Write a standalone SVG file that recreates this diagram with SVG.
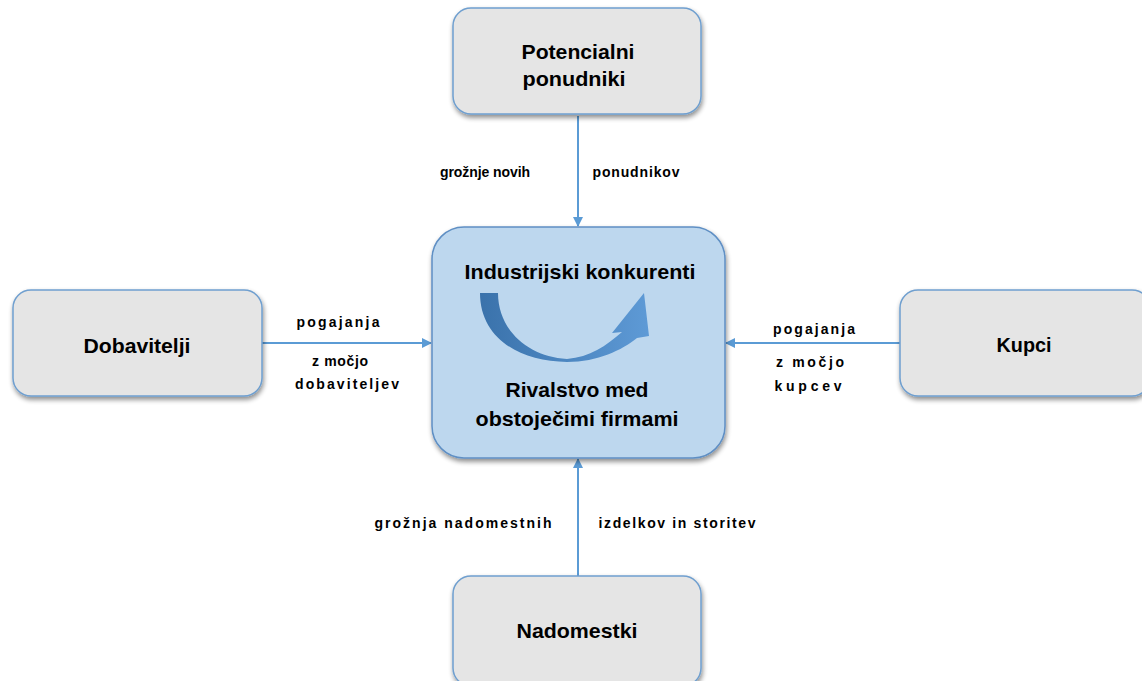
<svg xmlns="http://www.w3.org/2000/svg" width="1142" height="681" viewBox="0 0 1142 681">
  <defs>
    <style>
      .node { fill: #e5e5e5; stroke: #6f9fcf; stroke-width: 1.5; filter: url(#shadow); }
      .core { fill: #bdd7ee; stroke: #5f8fc4; stroke-width: 1.5; filter: url(#shadow); }
      .title { font-family: "Liberation Sans", Arial, sans-serif; font-weight: bold; font-size: 21px; fill: #000; text-anchor: middle; }
      .lbl { font-family: "Liberation Sans", Arial, sans-serif; font-weight: bold; font-size: 14px; fill: #000; text-anchor: middle; }
      .wire { stroke: #5b9bd5; stroke-width: 2; fill: none; marker-end: url(#tip); }
    </style>
    <filter id="shadow" x="-10%" y="-10%" width="125%" height="130%">
      <feGaussianBlur in="SourceAlpha" stdDeviation="2.5"/>
      <feOffset dx="1" dy="3" result="b"/>
      <feComponentTransfer><feFuncA type="linear" slope="0.45"/></feComponentTransfer>
      <feMerge><feMergeNode/><feMergeNode in="SourceGraphic"/></feMerge>
    </filter>
    <marker id="tip" viewBox="0 0 10 10" refX="9" refY="5" markerWidth="5" markerHeight="5" orient="auto">
      <path d="M0,0 L10,5 L0,10 Z" fill="#5b9bd5"/>
    </marker>
    <linearGradient id="swoosh" x1="0" y1="0" x2="1" y2="0">
      <stop offset="0" stop-color="#3a72ab"/>
      <stop offset="1" stop-color="#5e9ad6"/>
    </linearGradient>
  </defs>

  <g id="connectors">
    <line class="wire" x1="578" y1="116" x2="578" y2="226"/>
    <line class="wire" x1="262" y1="343" x2="431" y2="343"/>
    <line class="wire" x1="900" y1="343" x2="726" y2="343"/>
    <line class="wire" x1="578" y1="576" x2="578" y2="459"/>
    <text class="lbl" x="485" y="177" textLength="90" lengthAdjust="spacing">grožnje novih</text>
    <text class="lbl" x="636" y="177" textLength="87" lengthAdjust="spacing">ponudnikov</text>
    <text class="lbl" x="338" y="327" textLength="83" lengthAdjust="spacing">pogajanja</text>
    <text class="lbl" x="340" y="366" textLength="56" lengthAdjust="spacing">z močjo</text>
    <text class="lbl" x="347" y="389" textLength="104" lengthAdjust="spacing">dobaviteljev</text>
    <text class="lbl" x="814" y="334" textLength="82" lengthAdjust="spacing">pogajanja</text>
    <text class="lbl" x="810" y="367" textLength="68" lengthAdjust="spacing">z močjo</text>
    <text class="lbl" x="808" y="391" textLength="67" lengthAdjust="spacing">kupcev</text>
    <text class="lbl" x="463" y="528" textLength="177" lengthAdjust="spacing">grožnja nadomestnih</text>
    <text class="lbl" x="677" y="528" textLength="157" lengthAdjust="spacing">izdelkov in storitev</text>
  </g>

  <g id="potencialni">
    <rect class="node" x="453" y="8" width="248" height="106" rx="18"/>
    <text class="title" x="578" y="59" textLength="113" lengthAdjust="spacingAndGlyphs">Potencialni</text>
    <text class="title" x="574" y="86" textLength="103" lengthAdjust="spacingAndGlyphs">ponudniki</text>
  </g>

  <g id="dobavitelji">
    <rect class="node" x="13" y="290" width="249" height="106" rx="18"/>
    <text class="title" x="137" y="353" textLength="107" lengthAdjust="spacingAndGlyphs">Dobavitelji</text>
  </g>

  <g id="kupci">
    <rect class="node" x="900" y="290" width="250" height="106" rx="18"/>
    <text class="title" x="1024" y="352" textLength="55" lengthAdjust="spacingAndGlyphs">Kupci</text>
  </g>

  <g id="nadomestki">
    <rect class="node" x="453" y="576" width="248" height="110" rx="18"/>
    <text class="title" x="577" y="638" textLength="121" lengthAdjust="spacingAndGlyphs">Nadomestki</text>
  </g>

  <g id="konkurenti">
    <rect class="core" x="432" y="227" width="293" height="231" rx="32"/>
    <text class="title" x="580" y="279" textLength="231" lengthAdjust="spacingAndGlyphs">Industrijski konkurenti</text>
    <path d="M480,293 C480,338 520,362 567,362 C598,362 622,350 637,338 L649,336 L644,293 L612,333 L622,332 C606,346 590,357 567,359 C528,357 498,330 498,293 Z" fill="url(#swoosh)"/>
    <text class="title" x="577" y="397" textLength="143" lengthAdjust="spacingAndGlyphs">Rivalstvo med</text>
    <text class="title" x="577" y="426" textLength="203" lengthAdjust="spacingAndGlyphs">obstoječimi firmami</text>
  </g>
</svg>
